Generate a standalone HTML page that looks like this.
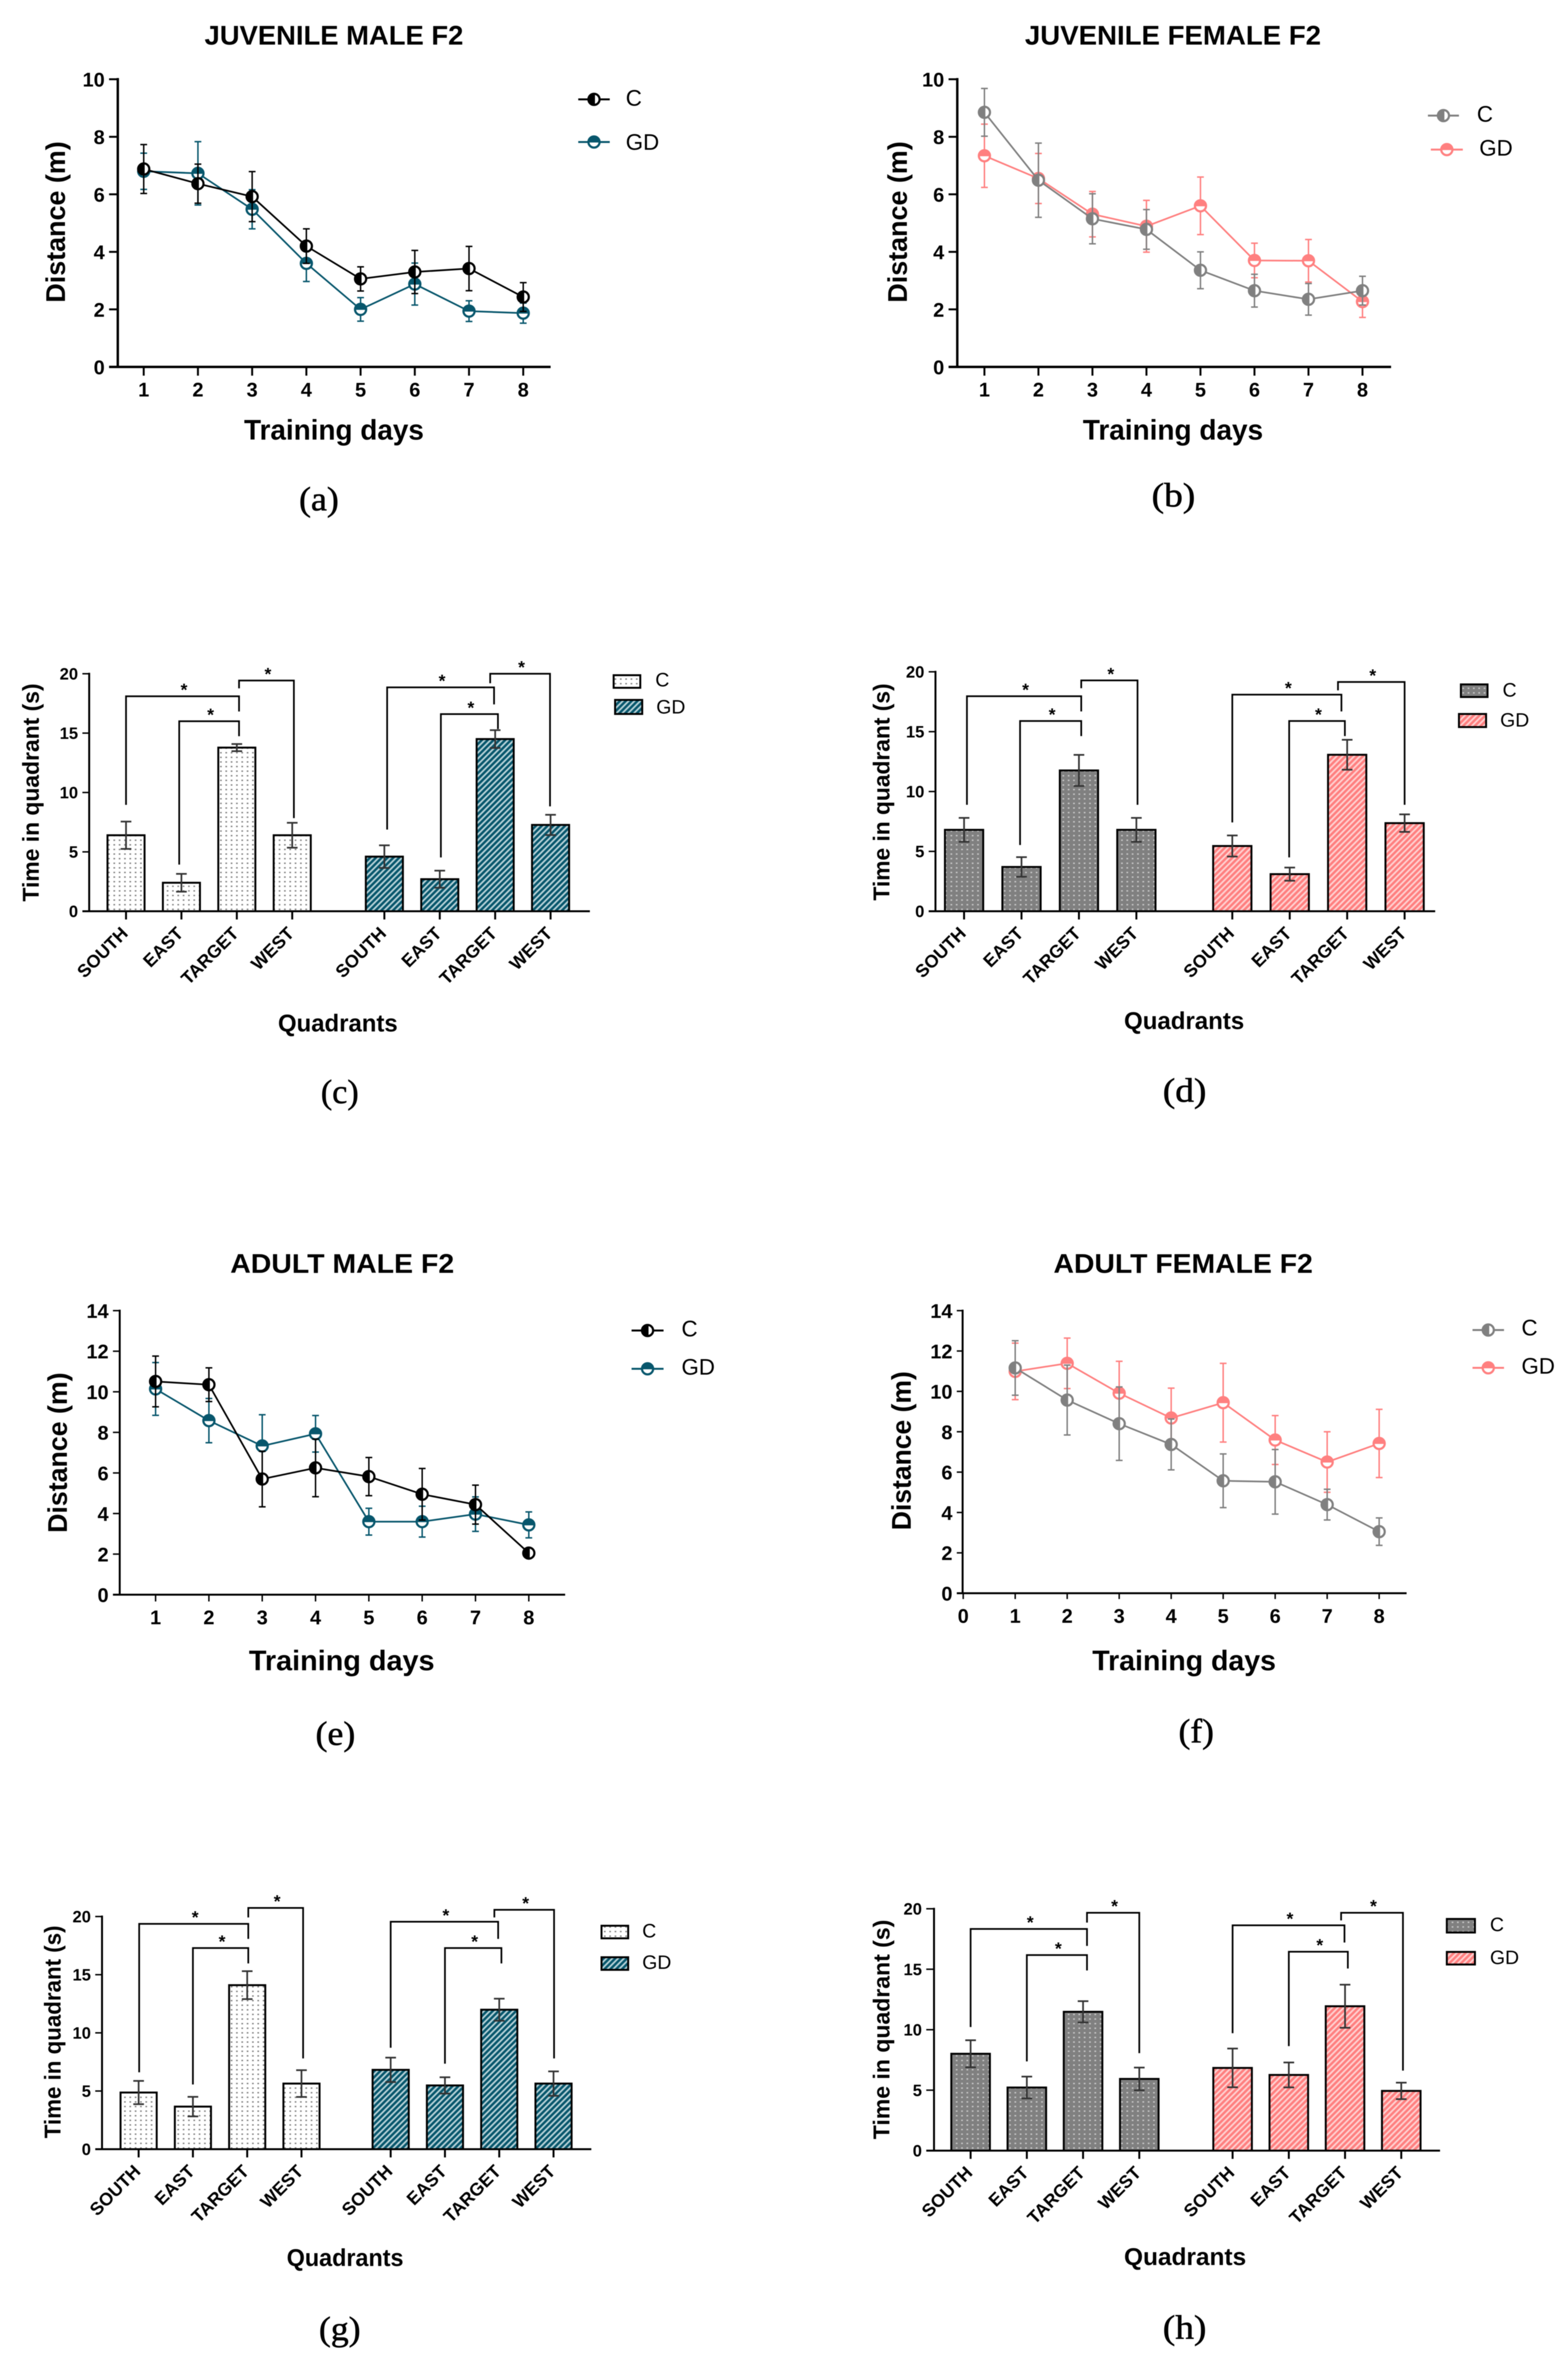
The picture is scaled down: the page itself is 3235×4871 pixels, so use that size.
<!DOCTYPE html>
<html lang="en">
<head>
<meta charset="utf-8">
<title>F2 training and quadrant charts</title>
<style>
html,body{margin:0;padding:0;background:#fff}
svg{display:block;filter:blur(0.7px)}
text{font-family:"Liberation Sans",Arial,sans-serif;fill:#000}
.t{font-weight:bold;font-size:56px;text-anchor:middle}
.at{font-weight:bold;text-anchor:middle}
.l1{font-size:46px}
.l2{font-size:40px}
.cap{font-family:"Liberation Serif",serif;font-size:70px;text-anchor:middle;stroke:#000;stroke-width:1}
</style>
</head>
<body>
<svg id="fig" xmlns="http://www.w3.org/2000/svg" width="3235" height="4871" viewBox="0 0 3235 4871">
<defs>
<pattern id="dots" patternUnits="userSpaceOnUse" width="11" height="9.5"><rect width="11" height="9.5" fill="#fff"/><rect x="3" y="3" width="3.5" height="3" fill="#8a8a8a"/></pattern>
<pattern id="greydots" patternUnits="userSpaceOnUse" width="11" height="9.5"><rect width="11" height="9.5" fill="#808080"/><rect x="3" y="3" width="3.5" height="3" fill="#c4c4c4"/></pattern>
<pattern id="tealhatch" patternUnits="userSpaceOnUse" width="8.5" height="8.5" patternTransform="rotate(45)"><rect width="8.5" height="8.5" fill="#07566c"/><rect width="3.6" height="8.5" fill="#b4d0d6"/></pattern>
<pattern id="pinkhatch" patternUnits="userSpaceOnUse" width="8.5" height="8.5" patternTransform="rotate(45)"><rect width="8.5" height="8.5" fill="#ff7f7f"/><rect width="3.6" height="8.5" fill="#ffd0d0"/></pattern>
</defs>

<g id="panel-a">
<text class="t" x="689" y="92" textLength="534" lengthAdjust="spacingAndGlyphs">JUVENILE MALE F2</text>
<text class="at" font-size="58" x="689" y="907" textLength="371" lengthAdjust="spacingAndGlyphs">Training days</text>
<text class="at" font-size="56" transform="translate(134 458) rotate(-90)" textLength="333" lengthAdjust="spacingAndGlyphs">Distance (m)</text>
<text class="l1" x="1291" y="218">C</text>
<text class="l1" x="1291" y="309">GD</text>
<text class="cap" x="658" y="1053" textLength="82" lengthAdjust="spacingAndGlyphs">(a)</text>
</g>

<g id="panel-b">
<text class="t" x="2420" y="92" textLength="611" lengthAdjust="spacingAndGlyphs">JUVENILE FEMALE F2</text>
<text class="at" font-size="58" x="2420" y="907" textLength="372" lengthAdjust="spacingAndGlyphs">Training days</text>
<text class="at" font-size="56" transform="translate(1871 458) rotate(-90)" textLength="333" lengthAdjust="spacingAndGlyphs">Distance (m)</text>
<text class="l1" x="3047" y="251">C</text>
<text class="l1" x="3052" y="321">GD</text>
<text class="cap" x="2421" y="1045" textLength="90" lengthAdjust="spacingAndGlyphs">(b)</text>
</g>

<g id="panel-c">
<text class="at" font-size="50" x="697" y="2128" textLength="247" lengthAdjust="spacingAndGlyphs">Quadrants</text>
<text class="at" font-size="47" transform="translate(80 1635) rotate(-90)" textLength="450" lengthAdjust="spacingAndGlyphs">Time in quadrant (s)</text>
<text class="l2" x="1352" y="1416">C</text>
<text class="l2" x="1354" y="1472">GD</text>
<text class="cap" x="701" y="2276" textLength="78" lengthAdjust="spacingAndGlyphs">(c)</text>
</g>

<g id="panel-d">
<text class="at" font-size="50" x="2443" y="2123" textLength="248" lengthAdjust="spacingAndGlyphs">Quadrants</text>
<text class="at" font-size="47" transform="translate(1835 1634) rotate(-90)" textLength="448" lengthAdjust="spacingAndGlyphs">Time in quadrant (s)</text>
<text class="l2" x="3100" y="1437">C</text>
<text class="l2" x="3095" y="1499">GD</text>
<text class="cap" x="2444" y="2273" textLength="90" lengthAdjust="spacingAndGlyphs">(d)</text>
</g>

<g id="panel-e">
<text class="t" x="706" y="2626" textLength="462" lengthAdjust="spacingAndGlyphs">ADULT MALE F2</text>
<text class="at" font-size="58" x="705" y="3446" textLength="383" lengthAdjust="spacingAndGlyphs">Training days</text>
<text class="at" font-size="56" transform="translate(138 2997) rotate(-90)" textLength="331" lengthAdjust="spacingAndGlyphs">Distance (m)</text>
<text class="l1" x="1406" y="2757">C</text>
<text class="l1" x="1406" y="2836">GD</text>
<text class="cap" x="692" y="3600" textLength="82" lengthAdjust="spacingAndGlyphs">(e)</text>
</g>

<g id="panel-f">
<text class="t" x="2441" y="2626" textLength="535" lengthAdjust="spacingAndGlyphs">ADULT FEMALE F2</text>
<text class="at" font-size="58" x="2443" y="3446" textLength="379" lengthAdjust="spacingAndGlyphs">Training days</text>
<text class="at" font-size="56" transform="translate(1879 2993) rotate(-90)" textLength="328" lengthAdjust="spacingAndGlyphs">Distance (m)</text>
<text class="l1" x="3139" y="2755">C</text>
<text class="l1" x="3139" y="2834">GD</text>
<text class="cap" x="2468" y="3595" textLength="73" lengthAdjust="spacingAndGlyphs">(f)</text>
</g>

<g id="panel-g">
<text class="at" font-size="50" x="712" y="4675" textLength="241" lengthAdjust="spacingAndGlyphs">Quadrants</text>
<text class="at" font-size="47" transform="translate(125 4192) rotate(-90)" textLength="439" lengthAdjust="spacingAndGlyphs">Time in quadrant (s)</text>
<text class="l2" x="1325" y="3997">C</text>
<text class="l2" x="1325" y="4062">GD</text>
<text class="cap" x="701" y="4828" textLength="86" lengthAdjust="spacingAndGlyphs">(g)</text>
</g>

<g id="panel-h">
<text class="at" font-size="50" x="2445" y="4673" textLength="252" lengthAdjust="spacingAndGlyphs">Quadrants</text>
<text class="at" font-size="47" transform="translate(1835 4187) rotate(-90)" textLength="453" lengthAdjust="spacingAndGlyphs">Time in quadrant (s)</text>
<text class="l2" x="3074" y="3984">C</text>
<text class="l2" x="3074" y="4052">GD</text>
<text class="cap" x="2444" y="4825" textLength="90" lengthAdjust="spacingAndGlyphs">(h)</text>
</g>
</svg>

<script>
/* ---------- shared categories and tick labels ---------- */
const days = [1, 2, 3, 4, 5, 6, 7, 8];
const daysWithZero = [0, 1, 2, 3, 4, 5, 6, 7, 8];
const quadrants = ['SOUTH', 'EAST', 'TARGET', 'WEST', 'SOUTH', 'EAST', 'TARGET', 'WEST'];
const ticksTen = [0, 2, 4, 6, 8, 10];
const ticksFourteen = [0, 2, 4, 6, 8, 10, 12, 14];
const ticksTwenty = [0, 5, 10, 15, 20];

/* ---------- panel a ---------- */
const aControl = [6.88, 6.37, 5.92, 4.2, 3.06, 3.3, 3.42, 2.43];
const aControlErr = [0.85, 0.68, 0.87, 0.6, 0.42, 0.75, 0.77, 0.5];
const aGd = [6.8, 6.73, 5.48, 3.6, 2.0, 2.88, 1.94, 1.87];
const aGdErr = [0.63, 1.1, 0.68, 0.63, 0.41, 0.73, 0.36, 0.35];
/* ---------- panel b ---------- */
const bControl = [8.85, 6.49, 5.15, 4.78, 3.36, 2.65, 2.35, 2.65];
const bControlErr = [0.83, 1.29, 0.87, 0.69, 0.64, 0.57, 0.55, 0.5];
const bGd = [7.34, 6.55, 5.31, 4.89, 5.6, 3.7, 3.69, 2.27];
const bGdErr = [1.1, 0.87, 0.79, 0.9, 1.0, 0.6, 0.74, 0.55];
/* ---------- panel e ---------- */
const eControl = [10.51, 10.35, 5.7, 6.25, 5.82, 4.95, 4.44, 2.05];
const eControlErr = [1.25, 0.83, 1.37, 1.42, 0.94, 1.27, 0.96, 0];
const eGd = [10.14, 8.58, 7.33, 7.93, 3.6, 3.6, 3.97, 3.44];
const eGdErr = [1.3, 1.09, 1.54, 0.9, 0.66, 0.76, 0.85, 0.64];
/* ---------- panel f ---------- */
const fControl = [11.16, 9.57, 8.4, 7.37, 5.57, 5.52, 4.39, 3.05];
const fControlErr = [1.35, 1.73, 1.82, 1.26, 1.33, 1.6, 0.76, 0.68];
const fGd = [10.99, 11.39, 9.91, 8.68, 9.44, 7.59, 6.5, 7.42];
const fGdErr = [1.4, 1.25, 1.58, 1.48, 1.95, 1.21, 1.5, 1.69];

/* ---------- panel c ---------- */
const cValues = [6.4, 2.4, 13.78, 6.4, 4.6, 2.7, 14.5, 7.27];
const cErrors = [1.15, 0.75, 0.3, 1.05, 0.95, 0.72, 0.75, 0.85];
/* bracket: from-category, to-category, level, left-end level, right-end level */
const cBrackets = [[0, 2.04, 18.1, 8.96, 16.82], [0.96, 2.04, 16.0, 3.93, 14.74], [2.04, 3.03, 19.43, 18.77, 7.84], [4.05, 5.98, 18.85, 6.88, 17.42], [5.02, 6.05, 16.6, 4.53, 15.34], [5.91, 6.99, 20, 19.2, 8.83]];
/* ---------- panel d ---------- */
const dValues = [6.8, 3.7, 11.76, 6.8, 5.45, 3.1, 13.07, 7.36];
const dErrors = [1.0, 0.82, 1.3, 1.0, 0.88, 0.55, 1.25, 0.73];
const dBrackets = [[0.05, 2.04, 17.96, 8.89, 16.69], [0.975, 2.04, 15.89, 5.53, 14.63], [2.04, 3.02, 19.28, 18.63, 8.89], [4, 5.9, 18.09, 7.42, 16.69], [4.99, 5.96, 15.89, 4.5, 14.63], [5.84, 7, 19.15, 18.45, 8.89]];
/* ---------- panel g ---------- */
const gValues = [4.87, 3.66, 14.1, 5.64, 6.82, 5.48, 11.99, 5.64];
const gErrors = [1.0, 0.84, 1.2, 1.15, 1.05, 0.7, 0.95, 1.05];
const gBrackets = [[0.01, 2.02, 19.37, 6.61, 18.08], [1, 2.02, 17.29, 5.56, 15.97], [2.02, 3.03, 20.74, 19.92, 7.8], [4, 5.98, 19.55, 8.72, 18.08], [5, 6.04, 17.29, 7.35, 15.97], [5.91, 7.01, 20.58, 19.92, 7.8]];
/* ---------- panel h ---------- */
const hValues = [8.01, 5.22, 11.48, 5.93, 6.84, 6.26, 11.94, 4.94];
const hErrors = [1.12, 0.9, 0.88, 0.94, 1.6, 1.03, 1.78, 0.68];
const hBrackets = [[0, 2.07, 18.33, 10.22, 16.93], [1, 2.07, 16.17, 7.38, 14.9], [2.07, 3, 19.67, 18.86, 8.06], [4, 5.99, 18.63, 9.71, 17.21], [5, 6.05, 16.45, 8.64, 15.06], [5.93, 7.03, 19.67, 19.04, 6.62]];

const NS = 'http://www.w3.org/2000/svg';
const BLACK = '#000', TEAL = '#07566c', GREY = '#808080', PINK = '#ff8080';

function mk(parent, tag, attrs, txt) {
  const el = document.createElementNS(NS, tag);
  for (const k in attrs) el.setAttribute(k, attrs[k]);
  if (txt !== undefined) el.textContent = txt;
  parent.appendChild(el);
  return el;
}

function drawMarker(parent, cx, cy, color, half) {
  const r = 11.5;
  const g = mk(parent, 'g', {});
  
  
  mk(g, 'circle', {cx: cx, cy: cy, r: r, fill: '#fff', stroke: color, 'stroke-width': 4.5});
  const d = half === 'left'
    ? 'M' + (cx + 2) + ' ' + (cy - r) + ' A' + r + ' ' + r + ' 0 0 0 ' + (cx + 2) + ' ' + (cy + r) + ' Z'
    : 'M' + (cx - r) + ' ' + (cy + 1) + ' A' + r + ' ' + r + ' 0 0 1 ' + (cx + r) + ' ' + (cy + 1) + ' Z';
  mk(g, 'path', {d: d, fill: color});
}

function drawAxes(parent, L, yTicks, maxV, tickSize, axisW, yLabelDrop) {
  const y = v => L.y0 - v * (L.y0 - L.top) / maxV;
  const yAxis = mk(parent, 'line', {x1: L.ax, x2: L.ax, y1: L.top - axisW / 2, y2: L.y0, stroke: '#000', 'stroke-width': axisW});
  
  
  const xAxis = mk(parent, 'line', {x1: L.ax - L.tick, x2: L.right, y1: L.y0, y2: L.y0, stroke: '#000', 'stroke-width': axisW});
  
  
  yTicks.forEach(v => {
    const t = mk(parent, 'line', {x1: L.ax - L.tick, x2: L.ax, y1: y(v), y2: y(v), stroke: '#000', 'stroke-width': axisW - 1});
    
    
    const lb = mk(parent, 'text', {x: L.ax - L.tick - 9, y: y(v) + yLabelDrop, 'text-anchor': 'end', 'font-size': tickSize, 'font-weight': 'bold'}, String(v));
    
    
  });
  return y;
}

function drawSeries(parent, x, y, vals, errs, color, half, name) {
  const g = mk(parent, 'g', {});
  
  
  const line = mk(g, 'polyline', {points: vals.map((v, i) => x(days[i]) + ',' + y(v)).join(' '), fill: 'none', stroke: color, 'stroke-width': 3.5});
  
  
  vals.forEach((v, i) => {
    if (errs[i] > 0) {
      const cx = x(days[i]);
      const e = mk(g, 'path', {d: 'M' + cx + ' ' + y(v + errs[i]) + 'V' + y(v - errs[i]) + 'M' + (cx - 7) + ' ' + y(v + errs[i]) + 'h14M' + (cx - 7) + ' ' + y(v - errs[i]) + 'h14', fill: 'none', stroke: color, 'stroke-width': 3});
      
      
    }
  });
  vals.forEach((v, i) => drawMarker(g, x(days[i]), y(v), color, half));
}

function legendLine(parent, L, color, half, yPos, name) {
  const g = mk(parent, 'g', {});
  
  
  mk(g, 'line', {x1: yPos[0], x2: yPos[1], y1: yPos[2], y2: yPos[2], stroke: color, 'stroke-width': 4});
  drawMarker(g, (yPos[0] + yPos[1]) / 2, yPos[2], color, half);
}

function lineChart(id, L, yTicks, xLabels, c, cErr, gd, gdErr, colC, colG) {
  const p = document.getElementById(id);
  const maxV = yTicks[yTicks.length - 1];
  const y = drawAxes(p, L, yTicks, maxV, 41, L.axisW, 15);
  const x = d => L.x1 + (d - 1) * (L.x8 - L.x1) / 7;
  xLabels.forEach(d => {
    const t = mk(p, 'line', {x1: x(d), x2: x(d), y1: L.y0, y2: L.y0 + L.tick, stroke: '#000', 'stroke-width': L.axisW - 1});
    
    
    const lb = mk(p, 'text', {x: x(d), y: L.y0 + 61, 'text-anchor': 'middle', 'font-size': 41, 'font-weight': 'bold'}, String(d));
    
    
  });
  drawSeries(p, x, y, gd, gdErr, colG, 'top', 'series-gd');
  drawSeries(p, x, y, c, cErr, colC, 'left', 'series-c');
  legendLine(p, L, colC, 'left', L.legC, 'legend-marker-c');
  legendLine(p, L, colG, 'top', L.legG, 'legend-marker-gd');
}

function barChart(id, L, vals, errs, brackets, fillC, fillG) {
  const p = document.getElementById(id);
  const y = drawAxes(p, L, ticksTwenty, 20, 34, 4, 12);
  const x = f => f < 3.5 ? L.first + f * L.step : L.second + (f - 4) * L.step;
  quadrants.forEach((name, i) => {
    const cx = x(i);
    const t = mk(p, 'line', {x1: cx, x2: cx, y1: L.y0, y2: L.y0 + 17, stroke: '#000', 'stroke-width': 4});
    
    
    const ax = cx + 6, ay = L.y0 + 48;
    const lb = mk(p, 'text', {x: ax, y: ay, 'text-anchor': 'end', 'font-size': 37, 'font-weight': 'bold', transform: 'rotate(-45 ' + ax + ' ' + ay + ')'}, name);
    
    
  });
  vals.forEach((v, i) => {
    const cx = x(i);
    const b = mk(p, 'rect', {x: cx - L.bw / 2, y: y(v), width: L.bw, height: L.y0 - y(v), fill: 'url(#' + (i < 4 ? fillC : fillG) + ')', stroke: '#000', 'stroke-width': 4});
    
    
  });
  vals.forEach((v, i) => {
    const cx = x(i), hi = y(v + errs[i]), lo = y(v - errs[i]);
    const e = mk(p, 'path', {d: 'M' + cx + ' ' + hi + 'V' + lo + 'M' + (cx - 11) + ' ' + hi + 'h22M' + (cx - 11) + ' ' + lo + 'h22', fill: 'none', stroke: '#333', 'stroke-width': 3.5});
    
    
  });
  brackets.forEach(br => {
    const xa = x(br[0]), xb = x(br[1]), lv = y(br[2]);
    const path = mk(p, 'path', {d: 'M' + xa + ' ' + y(br[3]) + 'V' + lv + 'H' + xb + 'V' + y(br[4]), fill: 'none', stroke: '#000', 'stroke-width': 3.5});
    
    
    const s = mk(p, 'text', {x: (xa + xb) / 2 + 3, y: lv - 1, 'text-anchor': 'middle', 'font-size': 36, 'font-weight': 'bold'}, '*');
    
    
  });
  const s1 = mk(p, 'rect', {x: L.legC[0], y: L.legC[1], width: L.legC[2], height: L.legC[3], fill: 'url(#' + fillC + ')', stroke: '#000', 'stroke-width': 4});
  
  
  const s2 = mk(p, 'rect', {x: L.legG[0], y: L.legG[1], width: L.legG[2], height: L.legG[3], fill: 'url(#' + fillG + ')', stroke: '#000', 'stroke-width': 4});
  
  
}

lineChart('panel-a', {ax: 243, top: 163.5, y0: 757, right: 1136, tick: 18, x1: 296.5, x8: 1079.5, axisW: 5, legC: [1193, 1258, 205], legG: [1193, 1258, 293]}, ticksTen, days, aControl, aControlErr, aGd, aGdErr, BLACK, TEAL);
lineChart('panel-b', {ax: 1975, top: 163.5, y0: 757, right: 2870, tick: 18, x1: 2031, x8: 2811, axisW: 5, legC: [2946, 3010, 238.5], legG: [2952, 3018, 308.6]}, ticksTen, days, bControl, bControlErr, bGd, bGdErr, GREY, PINK);
lineChart('panel-e', {ax: 247, top: 2704, y0: 3290, right: 1166, tick: 14, x1: 321, x8: 1091, axisW: 4, legC: [1303, 1369, 2745], legG: [1303, 1369, 2824]}, ticksFourteen, days, eControl, eControlErr, eGd, eGdErr, BLACK, TEAL);
lineChart('panel-f', {ax: 1986, top: 2704, y0: 3287, right: 2902, tick: 12, x1: 2094.5, x8: 2845.4, axisW: 4, legC: [3038, 3103, 2744], legG: [3038, 3103, 2822]}, ticksFourteen, daysWithZero, fControl, fControlErr, fGd, fGdErr, GREY, PINK);

barChart('panel-c', {ax: 184, top: 1390, y0: 1880, right: 1217, tick: 14, first: 260, step: 114.3, second: 793, bw: 76.5, legC: [1266, 1393, 55, 26], legG: [1269, 1444, 56, 29]}, cValues, cErrors, cBrackets, 'dots', 'tealhatch');
barChart('panel-d', {ax: 1930, top: 1386, y0: 1880, right: 2961, tick: 14, first: 1989, step: 118.5, second: 2542.4, bw: 79, legC: [3014, 1412, 55, 26], legG: [3010, 1473, 56, 27]}, dValues, dErrors, dBrackets, 'greydots', 'pinkhatch');
barChart('panel-g', {ax: 210.5, top: 3954, y0: 4434, right: 1220, tick: 14, first: 286, step: 112, second: 806, bw: 74.6, legC: [1241, 3973, 55, 26], legG: [1241, 4038, 55, 26]}, gValues, gErrors, gBrackets, 'dots', 'tealhatch');
barChart('panel-h', {ax: 1927, top: 3938, y0: 4437, right: 2971, tick: 16, first: 2002.5, step: 116, second: 2543, bw: 79.6, legC: [2985, 3959, 58, 28], legG: [2985, 4027, 58, 26]}, hValues, hErrors, hBrackets, 'greydots', 'pinkhatch');
</script>
</body>
</html>
